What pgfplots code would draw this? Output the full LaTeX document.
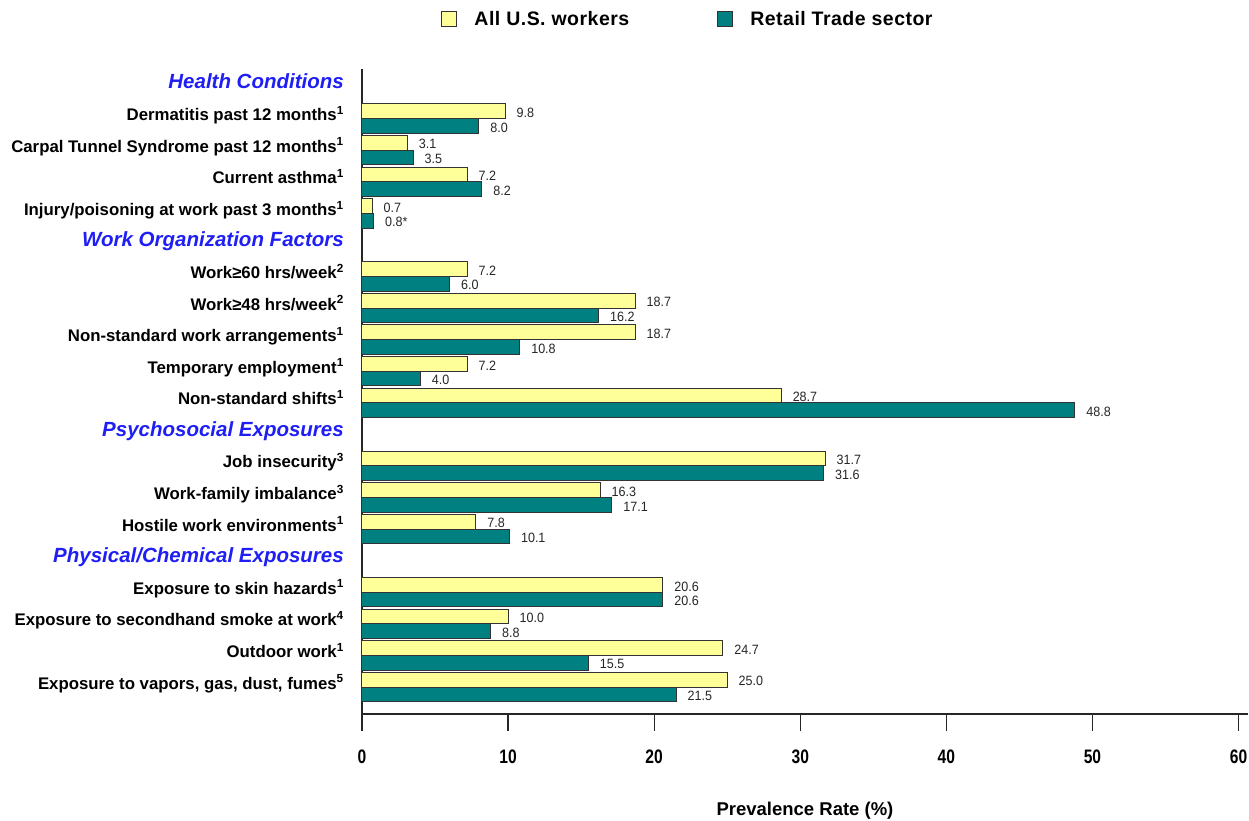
\documentclass[border=0pt]{standalone}
\usepackage{pgfplots}
\pgfplotsset{compat=1.18}
\usepackage{fontspec}
\setmainfont{Liberation Sans}
\newfontfamily\tickfont[FakeStretch=0.8]{Liberation Sans}
\newfontfamily\valfont[FakeStretch=0.93]{Liberation Sans}
\newfontfamily\legfont[LetterSpace=2.5]{Liberation Sans}
\definecolor{ylw}{RGB}{255,255,153}
\definecolor{tealb}{RGB}{0,128,128}
\definecolor{hdr}{RGB}{30,30,245}
\newcommand{\hd}[1]{{\fontsize{20.5}{20}\selectfont\color{hdr}\bfseries\itshape #1}}
\newcommand{\sups}[1]{\textsuperscript{#1}}
\begin{document}
\begin{tikzpicture}
\useasboundingbox (-362pt,-106pt) rectangle (887pt,714pt);
\begin{axis}[
  at={(0pt,0pt)}, anchor=south west,
  scale only axis, width=886pt, height=645pt,
  xmin=0, xmax=60.65, ymin=-0.855, ymax=19.57,
  axis x line*=bottom, axis y line*=left,
  axis line style={-, line width=1.3pt, black!85},
  xtick={0,10,...,60}, xtick pos=bottom,
  tick align=outside, major tick length=17pt,
  xtick style={line width=1.3pt, black!85},
  ytick={0,...,19}, ytick style={draw=none}, ytick pos=left,
  /pgf/number format/assume math mode=true,
  yticklabels={
    {Exposure to vapors, gas, dust, fumes\sups{5}},
    {Outdoor work\sups{1}},
    {Exposure to secondhand smoke at work\sups{4}},
    {Exposure to skin hazards\sups{1}},
    {\hd{Physical/Chemical Exposures}},
    {Hostile work environments\sups{1}},
    {Work-family imbalance\sups{3}},
    {Job insecurity\sups{3}},
    {\hd{Psychosocial Exposures}},
    {Non-standard shifts\sups{1}},
    {Temporary employment\sups{1}},
    {Non-standard work arrangements\sups{1}},
    {Work≥48 hrs/week\sups{2}},
    {Work≥60 hrs/week\sups{2}},
    {\hd{Work Organization Factors}},
    {Injury/poisoning at work past 3 months\sups{1}},
    {Current asthma\sups{1}},
    {Carpal Tunnel Syndrome past 12 months\sups{1}},
    {Dermatitis past 12 months\sups{1}},
    {\hd{Health Conditions}}
  },
  yticklabel style={anchor=base east, inner sep=0pt, xshift=-1pt, yshift=-2pt,
    font=\fontsize{16.8}{18}\selectfont\bfseries},
  xticklabel style={font=\tickfont\bfseries\fontsize{19.5}{20}\selectfont,
    anchor=north, inner sep=0pt, yshift=-19pt},
  xlabel={Prevalence Rate (\%)},
  xlabel style={at={(axis description cs:0.5,0)}, anchor=base, yshift=-101pt,
    font=\bfseries\fontsize{18.5}{19}\selectfont, inner sep=0pt},
  xbar, bar width=0.465,
  point meta=explicit symbolic,
  nodes near coords,
  every node near coord/.append style={anchor=west, inner sep=0pt, xshift=11pt,
    yshift=-1.5pt, font=\valfont\fontsize{13.5}{14}\selectfont, text=black!85},
  legend columns=2,
  legend style={at={(axis description cs:0.368,1.0775)}, anchor=center,
    draw=none, fill=none, font=\legfont\bfseries\fontsize{19.5}{20}\selectfont,
    /tikz/every odd column/.append style={column sep=15pt},
    /tikz/every even column/.append style={column sep=86pt}},
  clip=false,
]
\addplot[fill=ylw, draw=black!80, line width=1pt, bar shift=0.2325,
  legend image code/.code={\draw[fill=ylw, draw=black!80, line width=1pt] (0pt,-7.5pt) rectangle (15pt,7.5pt);}]
  table[x=x, y=y, meta=l, row sep=\\]{
  x y l\\
  9.8 18 9.8\\
  3.1 17 3.1\\
  7.2 16 7.2\\
  0.7 15 0.7\\
  7.2 13 7.2\\
  18.7 12 18.7\\
  18.7 11 18.7\\
  7.2 10 7.2\\
  28.7 9 28.7\\
  31.7 7 31.7\\
  16.3 6 16.3\\
  7.8 5 7.8\\
  20.6 3 20.6\\
  10.0 2 10.0\\
  24.7 1 24.7\\
  25.0 0 25.0\\
};
\addplot[fill=tealb, draw=black!80, line width=1pt, bar shift=-0.2325,
  legend image code/.code={\draw[fill=tealb, draw=black!80, line width=1pt] (0pt,-7.5pt) rectangle (15pt,7.5pt);}]
  table[x=x, y=y, meta=l, row sep=\\]{
  x y l\\
  8.0 18 8.0\\
  3.5 17 3.5\\
  8.2 16 8.2\\
  0.8 15 0.8*\\
  6.0 13 6.0\\
  16.2 12 16.2\\
  10.8 11 10.8\\
  4.0 10 4.0\\
  48.8 9 48.8\\
  31.6 7 31.6\\
  17.1 6 17.1\\
  10.1 5 10.1\\
  20.6 3 20.6\\
  8.8 2 8.8\\
  15.5 1 15.5\\
  21.5 0 21.5\\
};
\legend{All U.S. workers, Retail Trade sector}
\end{axis}
\end{tikzpicture}
\end{document}
